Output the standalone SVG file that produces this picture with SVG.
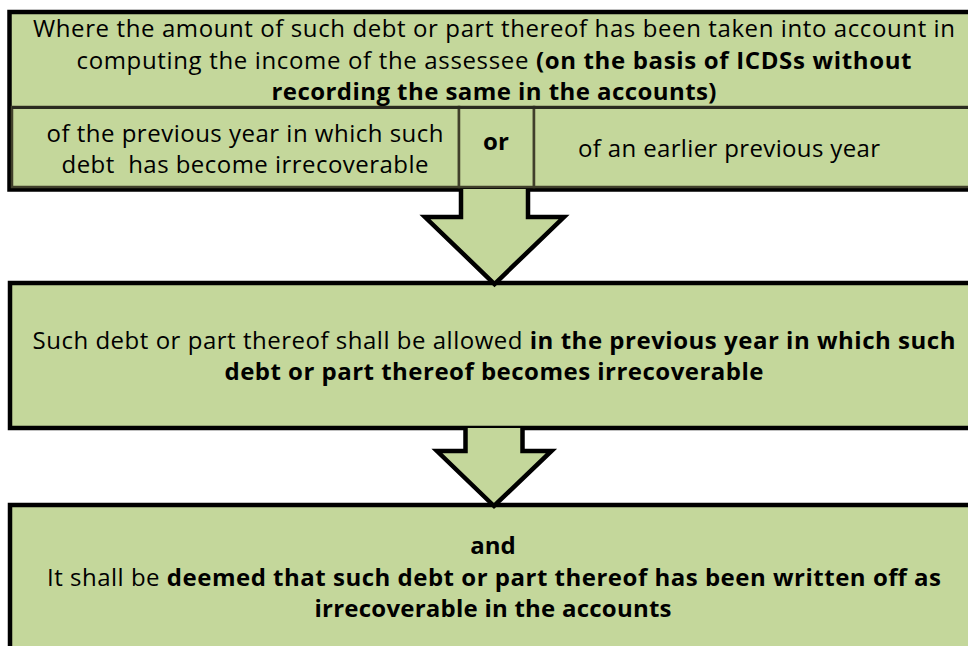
<svg xmlns="http://www.w3.org/2000/svg" width="968" height="646" viewBox="0 0 968 646">
<defs>
<style>
.box{fill:#C4D79B;stroke:#000;stroke-width:4.5}
.cell{fill:#C4D79B;stroke:#403F2B;stroke-width:2.5}
.arrow{fill:#C4D79B;stroke:#000;stroke-width:4.5;stroke-linejoin:miter}
text{font-family:"Open Sans","Noto Sans","DejaVu Sans",sans-serif;font-size:24px;fill:#000;text-anchor:middle;white-space:pre}
.b{font-weight:bold}
</style>
</defs>
<rect width="968" height="646" fill="#fff"/>
<g id="node-condition">
<rect class="box" x="9.5" y="12" width="990" height="177.5"/>
<rect class="cell" x="12" y="107" width="447" height="80"/>
<rect class="cell" x="459" y="107" width="75" height="80"/>
<rect class="cell" x="534" y="107" width="460" height="80"/>
<line x1="12" y1="107.5" x2="990" y2="107.5" stroke="#2b2b20" stroke-width="3"/>
<text x="494" y="37" textLength="922" lengthAdjust="spacing">Where the amount of such debt or part thereof has been taken into account in</text>
<text x="494" y="69" textLength="835" lengthAdjust="spacing">computing the income of the assessee <tspan class="b">(on the basis of ICDSs without</tspan></text>
<text x="494" y="100" class="b" textLength="445" lengthAdjust="spacing">recording the same in the accounts)</text>
<text x="245" y="142" textLength="397" lengthAdjust="spacing">of the previous year in which such</text>
<text x="245" y="173" textLength="367" lengthAdjust="spacing">debt  has become irrecoverable</text>
<text x="496" y="150" class="b">or</text>
<text x="729" y="157" textLength="302" lengthAdjust="spacing">of an earlier previous year</text>
</g>
<g id="node-allowed">
<rect class="box" x="10" y="283" width="990" height="145"/>
<text x="494" y="349" textLength="923" lengthAdjust="spacing">Such debt or part thereof shall be allowed <tspan class="b">in the previous year in which such</tspan></text>
<text x="494" y="380" class="b" textLength="539" lengthAdjust="spacing">debt or part thereof becomes irrecoverable</text>
</g>
<g id="node-deemed">
<rect class="box" x="10" y="505" width="990" height="200"/>
<text x="493" y="554" class="b">and</text>
<text x="494" y="586" textLength="894" lengthAdjust="spacing">It shall be <tspan class="b">deemed that such debt or part thereof has been written off as</tspan></text>
<text x="493" y="617" class="b" textLength="357" lengthAdjust="spacing">irrecoverable in the accounts</text>
</g>
<g id="connectors">
<polyline class="arrow" points="461,189 461,217 425,217 494.5,284 564,217 528,217 528,189"/>
<polyline class="arrow" points="465.5,428 465.5,451 437,451 494,506 551.5,451 522.5,451 522.5,428"/>
</g>
</svg>
